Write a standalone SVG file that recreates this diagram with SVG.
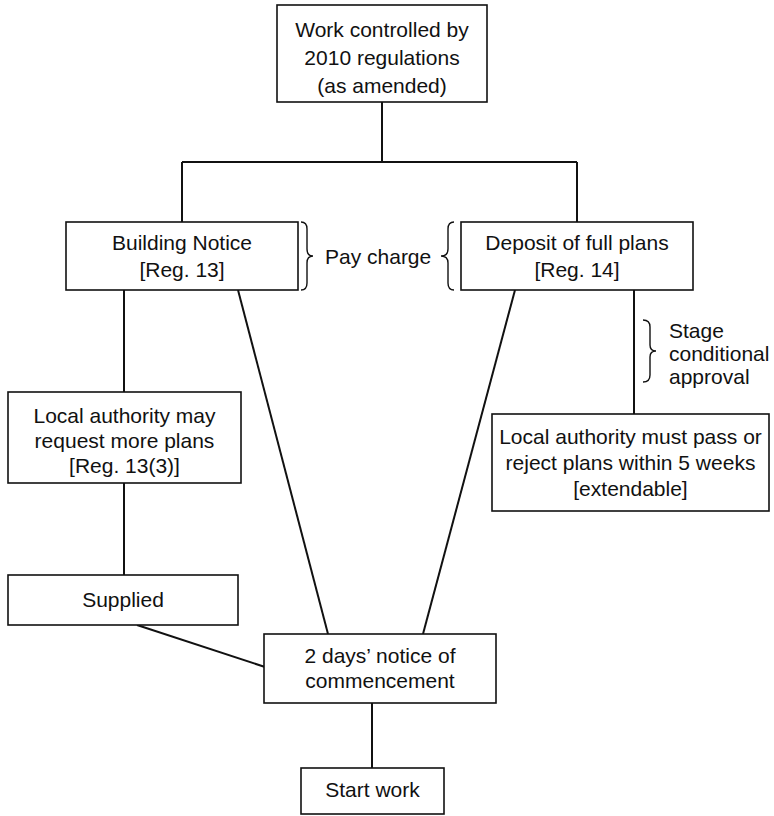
<svg xmlns="http://www.w3.org/2000/svg" width="774" height="816" viewBox="0 0 774 816">
<style>
.box{fill:#fff;stroke:#111;stroke-width:1.6}
.ln{fill:none;stroke:#111;stroke-width:2}
.br{fill:none;stroke:#111;stroke-width:1.4}
text{font-family:"Liberation Sans",Arial,sans-serif;font-size:21px;fill:#111}
.c{text-anchor:middle}
</style>
<rect width="774" height="816" fill="#fff"/>
<g id="connectors">
<path class="ln" d="M382,102 V162 M182,162 H577 M182,162 V222 M577,162 V222"/>
<path class="ln" d="M124,290 V392 M124,483 V575"/>
<path class="ln" d="M238,290 L328,634"/>
<path class="ln" d="M515,290 L423,634"/>
<path class="ln" d="M634,290 V414"/>
<path class="ln" d="M137,625 L265,667"/>
<path class="ln" d="M372,703 V768"/>
</g>
<g id="top">
<rect class="box" x="277" y="5" width="210" height="97"/>
<text class="c" x="382" y="37">Work controlled by</text>
<text class="c" x="382" y="65">2010 regulations</text>
<text class="c" x="382" y="93">(as amended)</text>
</g>
<g id="building-notice">
<rect class="box" x="66" y="222" width="232" height="68"/>
<text class="c" x="182" y="250">Building Notice</text>
<text class="c" x="182" y="277">[Reg. 13]</text>
</g>
<g id="pay-charge">
<path class="br" d="M301,222 Q307,222 307,229 L307,249 Q307,256 313,256 Q307,256 307,263 L307,283 Q307,290 301,290"/>
<text x="325" y="264">Pay charge</text>
<path class="br" d="M454,222 Q448,222 448,229 L448,249 Q448,256 441,256 Q448,256 448,263 L448,283 Q448,290 454,290"/>
</g>
<g id="deposit">
<rect class="box" x="461" y="222" width="232" height="68"/>
<text class="c" x="577" y="250">Deposit of full plans</text>
<text class="c" x="577" y="277">[Reg. 14]</text>
</g>
<g id="stage">
<path class="br" d="M643,320 Q650,320 650,327 L650,345 Q650,351 656,351 Q650,351 650,357 L650,375 Q650,382 643,382"/>
<text x="669" y="338">Stage</text>
<text x="669" y="361">conditional</text>
<text x="669" y="384">approval</text>
</g>
<g id="la-may">
<rect class="box" x="8" y="392" width="233" height="91"/>
<text class="c" x="124.5" y="423">Local authority may</text>
<text class="c" x="124.5" y="448">request more plans</text>
<text class="c" x="124.5" y="473">[Reg. 13(3)]</text>
</g>
<g id="la-must">
<rect class="box" x="492" y="414" width="277" height="97"/>
<text class="c" x="630.5" y="444">Local authority must pass or</text>
<text class="c" x="630.5" y="470">reject plans within 5 weeks</text>
<text class="c" x="630.5" y="496">[extendable]</text>
</g>
<g id="supplied">
<rect class="box" x="8" y="575" width="230" height="50"/>
<text class="c" x="123" y="607">Supplied</text>
</g>
<g id="notice">
<rect class="box" x="264" y="634" width="232" height="69"/>
<text class="c" x="380" y="663">2 days’ notice of</text>
<text class="c" x="380" y="688">commencement</text>
</g>
<g id="start">
<rect class="box" x="301" y="768" width="143" height="46"/>
<text class="c" x="372.5" y="797">Start work</text>
</g>
</svg>
